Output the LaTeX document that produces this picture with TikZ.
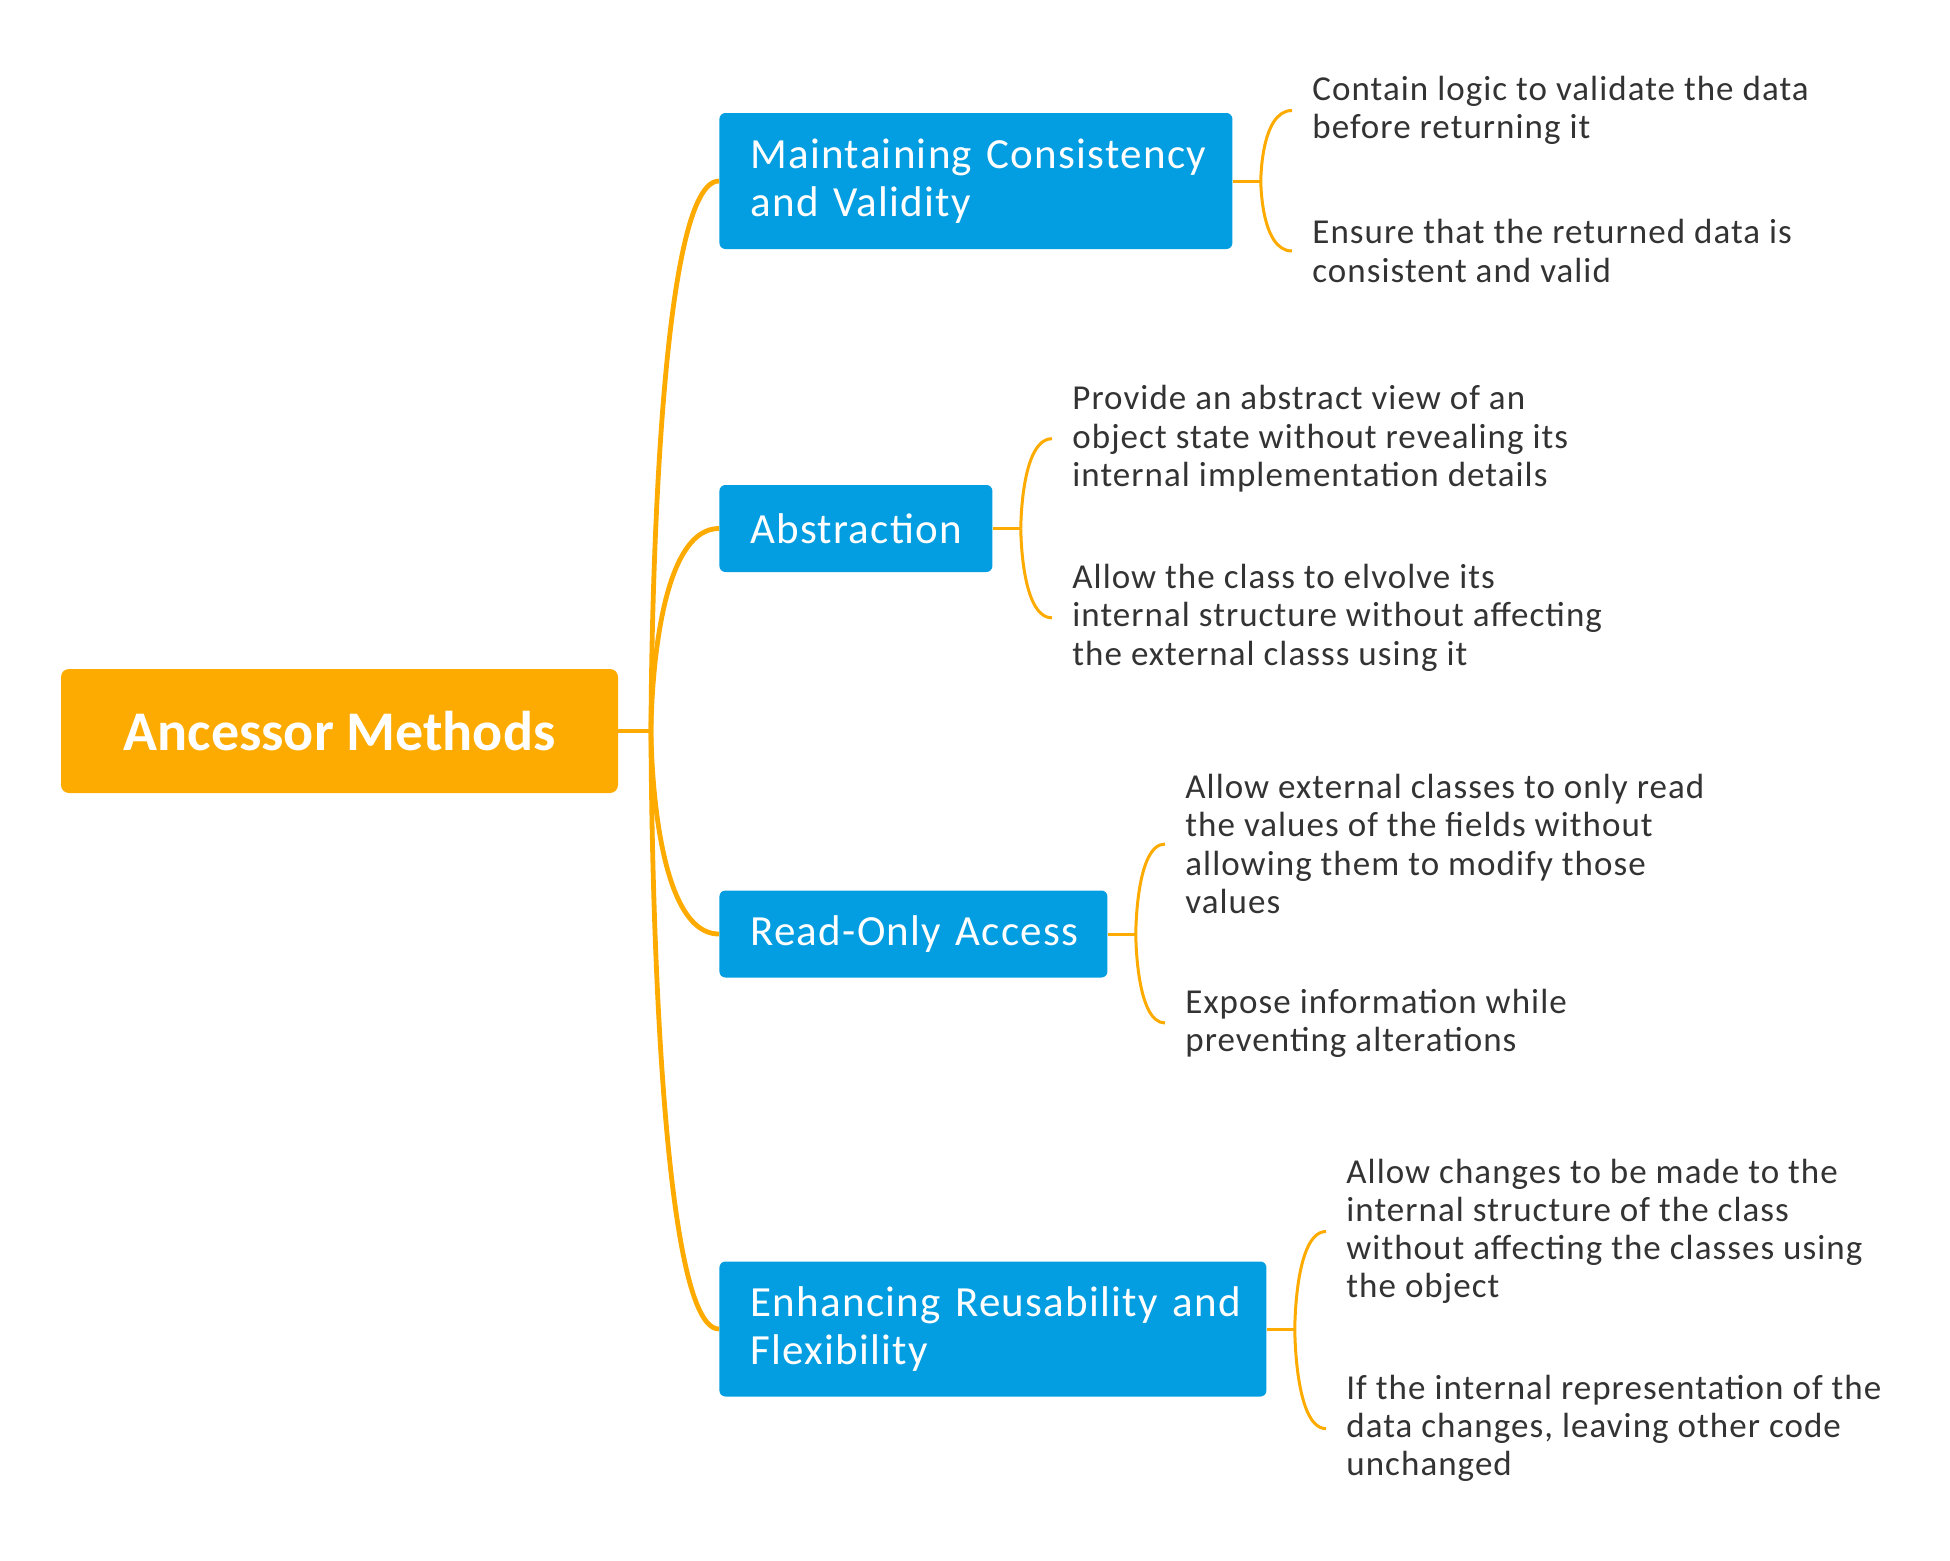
\documentclass[tikz,border=0pt]{standalone}
\usepackage{fontspec}
\setmainfont{Carlito}[LetterSpace=3]
\usetikzlibrary{positioning}
\definecolor{mindorange}{HTML}{FDAB00}
\definecolor{mindblue}{HTML}{039DE1}
\definecolor{leafgray}{HTML}{333333}
\tikzset{rootbox/.style={fill=mindorange, rounded corners=4pt, text=white, font=\bfseries\fontsize{28}{32}\selectfont, minimum width=278.5pt, minimum height=62pt, inner sep=0pt}} % central topic
\tikzset{branchbox/.style={fill=mindblue, rounded corners=3pt, text=white, font=\fontsize{21.5}{24.25}\selectfont, align=left, anchor=west, inner xsep=15.5pt, inner ysep=0pt}} % main topics
\tikzset{leaftext/.style={anchor=west, inner sep=0pt, align=left, text=leafgray, font=\fontsize{17.5}{19.1}\selectfont}} % sub topics
\tikzset{trunk/.style={draw=mindorange, line width=2.4pt}, twig/.style={draw=mindorange, line width=1.5pt}}
\begin{document}
\begin{tikzpicture}[x=0.5pt, y=-0.5pt]
\useasboundingbox (0,0) rectangle (1950,1560);
\node[rootbox] (root) at (339.5,731) {\addfontfeature{LetterSpace=0}Ancessor Methods};
\node[branchbox, text width=225.5pt, minimum height=68pt] (consist) at (719,181) {\mbox{Maintaining Consistency}\\and Validity};
\node[branchbox, text width=105.5pt, minimum height=43.5pt] (abstr) at (719,528.5) {Abstraction};
\node[branchbox, text width=163pt, minimum height=43.5pt] (readonly) at (719,934) {\mbox{Read-Only Access}};
\node[branchbox, text width=242.5pt, minimum height=67.5pt] (reuse) at (719,1329) {\mbox{Enhancing Reusability and}\\Flexibility};
% sub topics
\node[leaftext] (consistA) at (1312,110.5) {Contain logic to validate the data\\before returning it};
\node[leaftext] (consistB) at (1312,251) {Ensure that the returned data is\\consistent and valid};
\node[leaftext] (abstrA) at (1072,438.7) {Provide an abstract view of an\\object state without revealing its\\internal implementation details};
\node[leaftext] (abstrB) at (1072,617.8) {Allow the class to elvolve its\\internal structure without affecting\\the external classs using it};
\node[leaftext] (readonlyA) at (1185,844) {Allow external classes to only read\\the values of the fields without\\allowing them to modify those\\values};
\node[leaftext] (readonlyB) at (1185,1023) {Expose information while\\preventing alterations};
\node[leaftext] (reuseA) at (1346,1231.5) {Allow changes to be made to the\\internal structure of the class\\without affecting the classes using\\the object};
\node[leaftext] (reuseB) at (1346,1428.6) {If the internal representation of the\\data changes, leaving other code\\unchanged};
% connectors
\coordinate (hub) at (651,731);
\draw[trunk] (root.east) -- (hub);
\foreach \b in {consist,abstr,readonly,reuse}
  \draw[trunk] (hub) .. controls (hub) and (hub |- \b.west) .. (\b.west);
\foreach \b in {consist,abstr,readonly,reuse} {
  \coordinate (\b-fork) at ([xshift=14pt]\b.east);
  \draw[twig] (\b.east) -- (\b-fork);
  \foreach \s in {A,B}
    \draw[twig] (\b-fork) .. controls (\b-fork) and (\b-fork |- \b\s.west) .. ([xshift=-10pt]\b\s.west);
}
\end{tikzpicture}
\end{document}
